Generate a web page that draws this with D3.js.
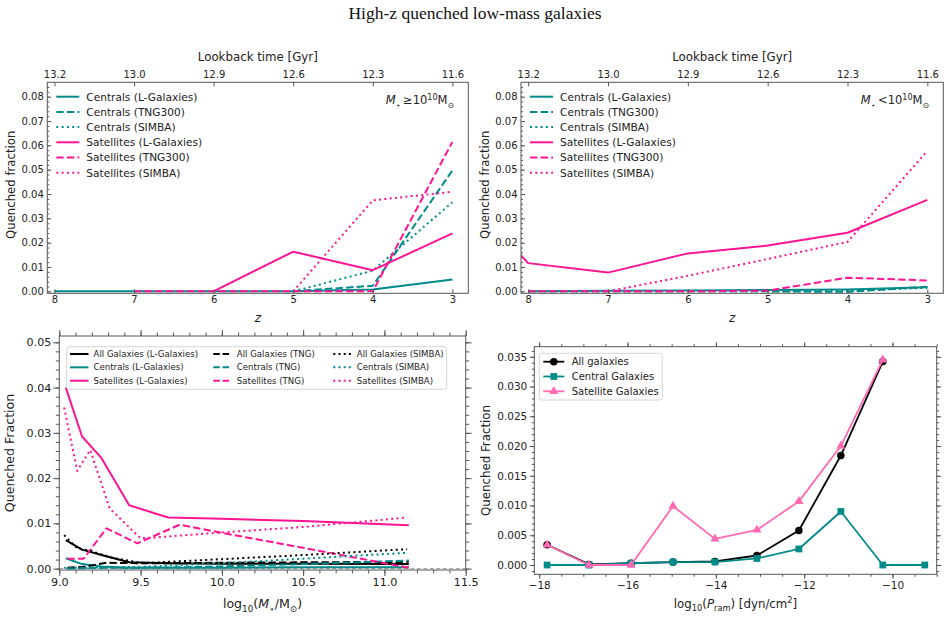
<!DOCTYPE html>
<html><head><meta charset="utf-8">
<script src="https://cdn.jsdelivr.net/npm/d3@7"></script>
<style>body{margin:0;background:#fff} text{font-family:"DejaVu Sans",sans-serif} text.title{font-family:"Liberation Serif","Times New Roman",serif}</style>
</head><body><svg id="c" width="950" height="617"></svg>
<script>
// ---------- DATA ----------
const zValues = [9, 8, 7, 6, 5, 4, 3];
const zTicks = [8, 7, 6, 5, 4, 3];
const lookbackLabels = ["13.2", "13.0", "12.9", "12.6", "12.3", "11.6"];
const legendTop = ["Centrals (L-Galaxies)", "Centrals (TNG300)", "Centrals (SIMBA)",
                   "Satellites (L-Galaxies)", "Satellites (TNG300)", "Satellites (SIMBA)"];
// High mass (M* >= 1e10)
const hiCenLGal  = [null, 0, 0, 0, 0, 0.0008, 0.0049];
const hiCenTNG   = [null, null, null, null, 0, 0.0023, 0.0497];
const hiCenSIMBA = [null, null, null, null, 0, 0.0085, 0.0366];
const hiSatLGal  = [null, null, null, 0, 0.0163, 0.0087, 0.0238];
const hiSatTNG   = [null, null, 0, 0, 0, 0, 0.0614];
const hiSatSIMBA = [null, null, null, null, 0, 0.0374, 0.0409];
// Low mass (M* < 1e10)
const loCenLGal  = [null, 0, 0.0002, 0.0004, 0.0006, 0.0008, 0.0017];
const loCenTNG   = [null, 0, 0, 0, 0, -0.0002, 0.0019];
const loCenSIMBA = [null, 0, 0, 0, 0, 0.0001, 0.0015];
const loSatLGal  = [0.047, 0.0116, 0.0077, 0.0156, 0.0188, 0.0241, 0.0376];
const loSatTNG   = [null, 0, 0, 0, 0.0003, 0.0056, 0.0045];
const loSatSIMBA = [null, null, 0, 0.0064, 0.0133, 0.0203, 0.0577];

// Quenched fraction vs stellar mass
const massLG    = [9.04, 9.14, 9.26, 9.43, 9.67, 10.0, 10.5, 11.15];
const massTNG   = [9.05, 9.15, 9.29, 9.48, 9.74, 10.0, 10.5, 11.15];
const massSIMBA = [9.03, 9.11, 9.19, 9.31, 9.5, 9.56, 10.0, 10.5, 11.14];
const allLG    = [0.0063, 0.0042, 0.0030, 0.0014, 0.0012, 0.0011, 0.0011, 0.0010];
const cenLG    = [0.0023, 0.0010, 0.0005, 0.0002, 0.0002, 0.0002, 0.0003, 0.0003];
const satLG    = [0.0400, 0.0292, 0.0244, 0.0140, 0.0113, 0.0110, 0.0105, 0.0096];
const allTNG   = [0.0002, 0.0004, 0.0013, 0.0012, 0.0012, 0.0013, 0.0014, 0.0015];
const cenTNG   = [0.0000, 0.0001, 0.0002, 0.0002, 0.0003, 0.0005, 0.0010, 0.0018];
const satTNG   = [0.0022, 0.0022, 0.0089, 0.0056, 0.0097, 0.0079, 0.0046, 0.0002];
const allSIMBA = [0.0074, 0.0045, 0.0040, 0.0025, 0.0013, 0.0013, 0.0021, 0.0030, 0.0043];
const cenSIMBA = [0.0002, 0.0002, 0.0002, 0.0003, 0.0004, 0.0005, 0.0012, 0.0022, 0.0035];
const satSIMBA = [0.0356, 0.0216, 0.0262, 0.0133, 0.0067, 0.0068, 0.0080, 0.0092, 0.0113];

// Quenched fraction vs ram pressure
const pramX    = [-17.82, -16.87, -15.92, -14.97, -14.02, -13.07, -12.12, -11.17, -10.22, -9.27];
const allPram  = [0.0034, 0.0001, 0.0003, 0.0005, 0.0006, 0.0016, 0.0058, 0.0184, 0.0342, null];
const cenPram  = [0.0000, 0.0000, 0.0003, 0.0005, 0.0005, 0.0011, 0.0027, 0.0090, 0.0000, 0.0000];
const satPram  = [0.0034, 0.0000, 0.0000, 0.0099, 0.0044, 0.0059, 0.0107, 0.0200, 0.0345, null];

// ---------- STYLE ----------
const TEAL = "#008b8b", PINK = "#ff1493", HOT = "#ff69b4", BLK = "#000";
const DASH = "7.4,3.2", DOT = "2,3.3";
const SPINE = "#555", TXT = "#222";
const svg = d3.select("#c");

function richText(parent, x, y, parts, size, anchor, rotate) {
  const t = parent.append("text").attr("x", x).attr("y", y).attr("font-size", size)
    .attr("text-anchor", anchor || "start").attr("fill", TXT);
  if (rotate) t.attr("transform", `rotate(-90,${x},${y})`);
  let shift = 0;
  parts.forEach(([s, st]) => {
    st = st || "";
    const ts = t.append("tspan").text(s);
    let target = 0;
    if (st.includes("sub")) target = size * 0.28;
    if (st.includes("sup")) target = -size * 0.4;
    ts.attr("dy", target - shift); shift = target;
    if (target !== 0) ts.attr("font-size", size * 0.7);
    if (st.startsWith("i")) ts.attr("font-style", "italic");
  });
  return t;
}
function styleAxis(sel, size) {
  sel.select(".domain").remove();
  sel.selectAll("line").attr("stroke", SPINE);
  sel.selectAll("text").attr("font-size", size).attr("fill", TXT);
}
let clipId = 0;
function makeClip(b) {
  const id = "clip" + (clipId++);
  svg.append("clipPath").attr("id", id).append("rect")
    .attr("x", b.x0).attr("y", b.y0).attr("width", b.x1 - b.x0).attr("height", b.y1 - b.y0);
  return id;
}
function drawLine(g, xs, ys, x, y, color, dash, lw) {
  const pts = xs.map((d, i) => [d, ys[i]]).filter(p => p[1] !== null);
  g.append("path").datum(pts)
    .attr("d", d3.line().x(p => x(p[0])).y(p => y(p[1])))
    .attr("fill", "none").attr("stroke", color).attr("stroke-width", lw)
    .attr("stroke-dasharray", dash || null).attr("stroke-linejoin", "round");
}

// Title
svg.append("text").attr("class", "title").attr("x", 475).attr("y", 19).attr("text-anchor", "middle")
  .attr("font-size", 17.5).attr("fill", "#111").text("High-z quenched low-mass galaxies");

// ---------- TOP PANELS ----------
function topPanel(b, series, annotParts) {
  const x = d3.scaleLinear().domain([8.09, 2.8]).range([b.x0, b.x1]);
  const y = d3.scaleLinear().domain([-0.0008, 0.0859]).range([b.y1, b.y0]);
  const g = svg.append("g");
  const cid = makeClip(b);
  const lg = g.append("g").attr("clip-path", `url(#${cid})`);
  series.forEach(s => drawLine(lg, zValues, s.v, x, y, s.c, s.d, 2));
  g.append("rect").attr("x", b.x0).attr("y", b.y0).attr("width", b.x1 - b.x0).attr("height", b.y1 - b.y0)
    .attr("fill", "none").attr("stroke", SPINE).attr("stroke-width", 1);
  const ax1 = g.append("g").attr("transform", `translate(0,${b.y1})`)
    .call(d3.axisBottom(x).tickValues(zTicks).tickSize(-4).tickPadding(3).tickFormat(d3.format("d")));
  styleAxis(ax1, 10);
  const ax2 = g.append("g").attr("transform", `translate(0,${b.y0})`)
    .call(d3.axisTop(x).tickValues(zTicks).tickSize(-4).tickPadding(4).tickFormat((d, i) => lookbackLabels[i]));
  styleAxis(ax2, 10);
  const ax3 = g.append("g").attr("transform", `translate(${b.x0},0)`)
    .call(d3.axisLeft(y).tickValues(d3.range(0, 0.0801, 0.01)).tickSize(-4).tickPadding(3.5).tickFormat(d3.format(".2f")));
  styleAxis(ax3, 10);
  const ax4 = g.append("g").attr("transform", `translate(${b.x0},0)`)
    .call(d3.axisLeft(y).tickValues(d3.range(0, 0.0859, 0.002)).tickSize(-2).tickFormat(""));
  styleAxis(ax4, 10);
  // labels
  const cx = (b.x0 + b.x1) / 2;
  g.append("text").attr("x", cx).attr("y", b.y0 - 21).attr("text-anchor", "middle")
    .attr("font-size", 11.8).attr("fill", TXT).text("Lookback time [Gyr]");
  richText(g, cx, b.y1 + 29, [["z", "i"]], 12, "middle");
  g.append("text").attr("transform", `translate(${b.x0 - 32},${(b.y0 + b.y1) / 2 - 3}) rotate(-90)`)
    .attr("text-anchor", "middle").attr("font-size", 11.7).attr("fill", TXT).text("Quenched fraction");
  // legend
  series.forEach((s, i) => {
    const yy = b.y0 + 14.4 + i * 15.2;
    g.append("line").attr("x1", b.x0 + 9).attr("x2", b.x0 + 32).attr("y1", yy).attr("y2", yy)
      .attr("stroke", s.c).attr("stroke-width", 2).attr("stroke-dasharray", s.d || null);
    g.append("text").attr("x", b.x0 + 39).attr("y", yy + 3.8).attr("font-size", 10.6).attr("fill", TXT).text(legendTop[i]);
  });
  richText(g, b.x1 - 14, b.y0 + 22, annotParts, 11.5, "end");
}
topPanel({x0: 47.3, x1: 468.3, y0: 82.3, y1: 293.3}, [
  {v: hiCenLGal, c: TEAL}, {v: hiCenTNG, c: TEAL, d: DASH}, {v: hiCenSIMBA, c: TEAL, d: DOT},
  {v: hiSatLGal, c: PINK}, {v: hiSatTNG, c: PINK, d: DASH}, {v: hiSatSIMBA, c: PINK, d: DOT}],
  [["M", "i"], ["⋆", "sub"], ["\u2009≥10"], ["10", "sup"], ["M"], ["⊙", "sub"]]);
topPanel({x0: 521, x1: 943.3, y0: 82.3, y1: 293.3}, [
  {v: loCenLGal, c: TEAL}, {v: loCenTNG, c: TEAL, d: DASH}, {v: loCenSIMBA, c: TEAL, d: DOT},
  {v: loSatLGal, c: PINK}, {v: loSatTNG, c: PINK, d: DASH}, {v: loSatSIMBA, c: PINK, d: DOT}],
  [["M", "i"], ["⋆", "sub"], ["\u2009<10"], ["10", "sup"], ["M"], ["⊙", "sub"]]);

// ---------- BOTTOM LEFT ----------
(function () {
  const b = {x0: 59.3, x1: 465.7, y0: 336, y1: 570};
  const x = d3.scaleLinear().domain([9.0, 11.5]).range([b.x0, b.x1]);
  const y = d3.scaleLinear().domain([-0.0003, 0.0514]).range([b.y1, b.y0]);
  const g = svg.append("g");
  const cid = makeClip(b);
  const lg = g.append("g").attr("clip-path", `url(#${cid})`);
  lg.append("line").attr("x1", b.x0).attr("x2", b.x1).attr("y1", y(0)).attr("y2", y(0))
    .attr("stroke", "#999").attr("stroke-width", 1).attr("stroke-dasharray", "4,2.5");
  const series = [
    {xs: massLG, v: allLG, c: BLK, d: null, n: "All Galaxies (L-Galaxies)"},
    {xs: massLG, v: cenLG, c: TEAL, d: null, n: "Centrals (L-Galaxies)"},
    {xs: massLG, v: satLG, c: PINK, d: null, n: "Satellites (L-Galaxies)"},
    {xs: massTNG, v: allTNG, c: BLK, d: DASH, n: "All Galaxies (TNG)"},
    {xs: massTNG, v: cenTNG, c: TEAL, d: DASH, n: "Centrals (TNG)"},
    {xs: massTNG, v: satTNG, c: PINK, d: DASH, n: "Satellites (TNG)"},
    {xs: massSIMBA, v: allSIMBA, c: BLK, d: DOT, n: "All Galaxies (SIMBA)"},
    {xs: massSIMBA, v: cenSIMBA, c: TEAL, d: DOT, n: "Centrals (SIMBA)"},
    {xs: massSIMBA, v: satSIMBA, c: PINK, d: DOT, n: "Satellites (SIMBA)"}];
  series.forEach(s => drawLine(lg, s.xs, s.v, x, y, s.c, s.d, 2));
  g.append("rect").attr("x", b.x0).attr("y", b.y0).attr("width", b.x1 - b.x0).attr("height", b.y1 - b.y0)
    .attr("fill", "none").attr("stroke", SPINE);
  const xt = d3.range(9.0, 11.51, 0.5), xm = d3.range(9.0, 11.51, 0.1);
  const yt = d3.range(0, 0.0501, 0.01), ym = d3.range(0, 0.0514, 0.002);
  [[d3.axisBottom, b.y1, true], [d3.axisTop, b.y0, false]].forEach(([f, yy, lab]) => {
    const a = g.append("g").attr("transform", `translate(0,${yy})`)
      .call(f(x).tickValues(xt).tickSize(6).tickPadding(2).tickFormat(lab ? d3.format(".1f") : ""));
    styleAxis(a, 11.1);
    const m = g.append("g").attr("transform", `translate(0,${yy})`).call(f(x).tickValues(xm).tickSize(3.5).tickFormat(""));
    styleAxis(m, 11);
  });
  [[d3.axisLeft, b.x0, true], [d3.axisRight, b.x1, false]].forEach(([f, xx, lab]) => {
    const a = g.append("g").attr("transform", `translate(${xx},0)`)
      .call(f(y).tickValues(yt).tickSize(6).tickPadding(2).tickFormat(lab ? d3.format(".2f") : ""));
    styleAxis(a, 11.1);
    const m = g.append("g").attr("transform", `translate(${xx},0)`).call(f(y).tickValues(ym).tickSize(3.5).tickFormat(""));
    styleAxis(m, 11);
  });
  g.append("text").attr("transform", `translate(${b.x0 - 45},${(b.y0 + b.y1) / 2}) rotate(-90)`)
    .attr("text-anchor", "middle").attr("font-size", 12.6).attr("fill", TXT).text("Quenched Fraction");
  richText(g, (b.x0 + b.x1) / 2, 608, [["log"], ["10", "sub"], ["("], ["M", "i"], ["⋆", "sub"], ["/M"], ["⊙", "sub"], [")"]], 12.6, "middle");
  // legend
  g.append("rect").attr("x", 66.7).attr("y", 346.7).attr("width", 380).attr("height", 42.6).attr("rx", 2.5)
    .attr("fill", "#fff").attr("fill-opacity", 0.85).attr("stroke", "#ccc").attr("stroke-width", 0.8);
  const cols = [70, 213.3, 333.3];
  series.forEach((s, i) => {
    const col = Math.floor(i / 3), row = i % 3;
    const lx = cols[col], yy = 354 + row * 13.35;
    g.append("line").attr("x1", lx).attr("x2", lx + 18.5).attr("y1", yy).attr("y2", yy)
      .attr("stroke", s.c).attr("stroke-width", 2).attr("stroke-dasharray", s.d ? (s.d === DASH ? "6.5,2.8" : "2,3.2") : null);
    g.append("text").attr("x", lx + 23.5).attr("y", yy + 3.1).attr("font-size", 8.6).attr("fill", TXT).text(s.n);
  });
})();

// ---------- BOTTOM RIGHT ----------
(function () {
  const b = {x0: 534.3, x1: 936.7, y0: 346.7, y1: 574.3};
  const x = d3.scaleLinear().domain([-18.11, -9.0]).range([b.x0, b.x1]);
  const y = d3.scaleLinear().domain([-0.00156, 0.0367]).range([b.y1, b.y0]);
  const g = svg.append("g");
  const series = [
    {v: allPram, c: BLK, m: "circle", n: "All galaxies"},
    {v: cenPram, c: TEAL, m: "square", n: "Central Galaxies"},
    {v: satPram, c: HOT, m: "triangle", n: "Satellite Galaxies"}];
  const sym = {circle: d3.symbol(d3.symbolCircle, 44), square: d3.symbol(d3.symbolSquare, 46), triangle: d3.symbol(d3.symbolTriangle, 36)};
  series.forEach(s => {
    drawLine(g, pramX, s.v, x, y, s.c, null, 1.8);
    pramX.forEach((px, i) => {
      if (s.v[i] === null) return;
      g.append("path").attr("d", sym[s.m]()).attr("transform", `translate(${x(px)},${y(s.v[i])})`).attr("fill", s.c);
    });
  });
  g.append("rect").attr("x", b.x0).attr("y", b.y0).attr("width", b.x1 - b.x0).attr("height", b.y1 - b.y0)
    .attr("fill", "none").attr("stroke", SPINE);
  const xt = d3.range(-18, -9.5, 2), xm = d3.range(-18, -8.9, 0.5);
  const yt = d3.range(0, 0.0351, 0.005), ym = d3.range(-0.001, 0.0367, 0.001);
  [[d3.axisBottom, b.y1, true], [d3.axisTop, b.y0, false]].forEach(([f, yy, lab]) => {
    const a = g.append("g").attr("transform", `translate(0,${yy})`)
      .call(f(x).tickValues(xt).tickSize(4.5).tickPadding(2.5).tickFormat(lab ? d3.format("d") : ""));
    styleAxis(a, 10.5);
    const m = g.append("g").attr("transform", `translate(0,${yy})`).call(f(x).tickValues(xm).tickSize(2.5).tickFormat(""));
    styleAxis(m, 10);
  });
  [[d3.axisLeft, b.x0, true], [d3.axisRight, b.x1, false]].forEach(([f, xx, lab]) => {
    const a = g.append("g").attr("transform", `translate(${xx},0)`)
      .call(f(y).tickValues(yt).tickSize(4.5).tickPadding(2.5).tickFormat(lab ? d3.format(".3f") : ""));
    styleAxis(a, 10.5);
    const m = g.append("g").attr("transform", `translate(${xx},0)`).call(f(y).tickValues(ym).tickSize(2.5).tickFormat(""));
    styleAxis(m, 10);
  });
  g.append("text").attr("transform", `translate(${b.x0 - 44},${(b.y0 + b.y1) / 2}) rotate(-90)`)
    .attr("text-anchor", "middle").attr("font-size", 11.8).attr("fill", TXT).text("Quenched Fraction");
  richText(g, (b.x0 + b.x1) / 2, 608, [["log"], ["10", "sub"], ["("], ["P", "i"], ["ram", "sub"], [") [dyn/cm"], ["2", "sup"], ["]"]], 11.8, "middle");
  // legend
  g.append("rect").attr("x", 539.3).attr("y", 353.3).attr("width", 123).attr("height", 46.7).attr("rx", 2.5)
    .attr("fill", "#fff").attr("fill-opacity", 0.85).attr("stroke", "#ccc").attr("stroke-width", 0.8);
  series.forEach((s, i) => {
    const yy = 361.7 + i * 14.8;
    g.append("line").attr("x1", 543.3).attr("x2", 564.3).attr("y1", yy).attr("y2", yy).attr("stroke", s.c).attr("stroke-width", 1.8);
    g.append("path").attr("d", sym[s.m]()).attr("transform", `translate(553.8,${yy})`).attr("fill", s.c);
    g.append("text").attr("x", 571.7).attr("y", yy + 3.6).attr("font-size", 10).attr("fill", TXT).text(s.n);
  });
})();
</script></body></html>
